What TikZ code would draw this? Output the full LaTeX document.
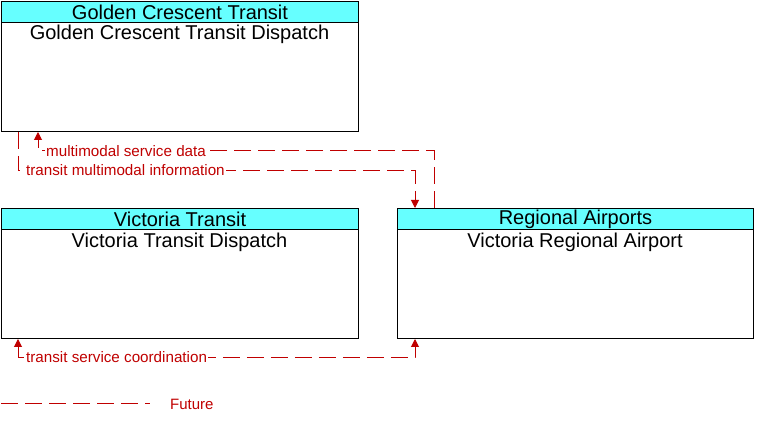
\documentclass[tikz,border=0pt]{standalone}
\usepackage{fontspec}
\setmainfont{Liberation Sans}
\usetikzlibrary{arrows.meta}
\definecolor{flowred}{RGB}{192,0,0}
\definecolor{hdrcyan}{RGB}{102,255,255}
\begin{document}
\begin{tikzpicture}[x=1pt,y=-1pt,
  sysbox/.style={draw=black,line width=1pt,fill=white,minimum width=357pt,minimum height=130pt,anchor=north west,inner sep=0pt},
  hdrbox/.style={draw=black,line width=1pt,fill=hdrcyan,minimum width=357pt,minimum height=21pt,anchor=north west,inner sep=0pt,font=\fontsize{20}{20}\selectfont},
  bodytxt/.style={font=\fontsize{20}{20}\selectfont,inner sep=0pt},
  flow/.style={draw=flowred,line width=1pt,dash pattern=on 17pt off 7pt,arrows={-Triangle[length=8pt,width=8pt]}},
  flowlbl/.style={text=flowred,fill=white,inner sep=1pt,anchor=west,font=\fontsize{15.2}{15.2}\selectfont}
]
\useasboundingbox (0,0) rectangle (764,422);
% boxes
\node[sysbox] (gct) at (1,1) {};
\node[hdrbox] (gcth) at (1,1) {Golden Crescent Transit};
\node[bodytxt] (gctb) at (179.5,34) {Golden Crescent Transit Dispatch};
\node[sysbox] (vt) at (1,208) {};
\node[hdrbox] (vth) at (1,208) {Victoria Transit};
\node[bodytxt] (vtb) at (179.5,242) {Victoria Transit Dispatch};
\node[sysbox,minimum width=356pt] (ra) at (397,208) {};
\node[hdrbox,minimum width=356pt] (rah) at (397,208) {Regional Airports};
\node[bodytxt] (rab) at (575,242) {Victoria Regional Airport};
% flows
\draw[flow] ([xshift=37pt]ra.north west) -- ++(0,-57) -| ([xshift=37pt]gct.south west);
\draw[flow] ([xshift=17pt]gct.south west) -- ++(0,39) -| ([xshift=18pt]ra.north west);
\draw[flow,arrows={Triangle[length=8pt,width=8pt]-Triangle[length=8pt,width=8pt]}] ([xshift=17pt]vt.south west) -- ++(0,19) -| ([xshift=18pt]ra.south west);
\node[flowlbl] (l1) at (45,151) {multimodal service data};
\node[flowlbl] (l2) at (25,170) {transit multimodal information};
\node[flowlbl] (l3) at (25,357) {transit service coordination};
% legend
\coordinate (lg1) at (1,404);
\coordinate (lg2) at (150,404);
\draw[draw=flowred,line width=1pt,dash pattern=on 17pt off 7pt] (lg1) -- (lg2);
\node[text=flowred,anchor=west,inner sep=0pt,font=\fontsize{15}{15}\selectfont] (fut) at (170,404) {Future};
\end{tikzpicture}
\end{document}
